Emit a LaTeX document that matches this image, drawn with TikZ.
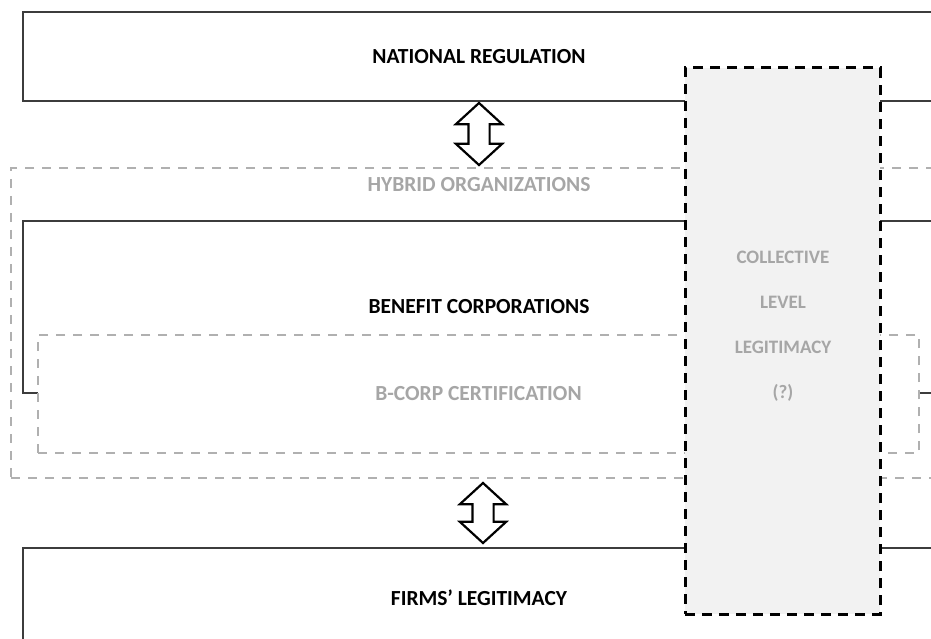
\documentclass[tikz,border=0pt]{standalone}
\usepackage{fontspec}
\setmainfont{Carlito}
\usetikzlibrary{shapes.arrows}
\definecolor{frame}{RGB}{60, 60, 60}
\definecolor{faded}{RGB}{176, 176, 176}
\definecolor{fadedtext}{RGB}{166, 166, 166}
\definecolor{shade}{RGB}{242, 242, 242}
\tikzset{
    caps/.style={font=\bfseries\fontsize{21.5}{26}\selectfont},
    level/.style={caps, draw=frame, line width=2.4pt},
    group/.style={caps, draw=faded, line width=2.2pt,
        dash pattern=on 9pt off 8pt, text=fadedtext},
    overlay-box/.style={draw=black, line width=3pt,
        dash pattern=on 10pt off 7pt, fill=shade},
    updown/.style={draw, double arrow, shape border rotate=90, fill=white,
        line width=2.2pt, inner sep=9.5pt, double arrow head extend=12.5pt,
        double arrow tip angle=95}
}

\begin{document}
\begin{tikzpicture}[x=1pt, y=-1pt]
    \useasboundingbox (0, 0) rectangle (931, 639);
    \clip (0, 0) rectangle (931, 639);

    \node[level, minimum width=912, minimum height=89] (regulation) at (479, 56.5)
        {NATIONAL REGULATION};
    \node[group, minimum width=936, minimum height=310] (hybrid) at (479, 323) {};
    \node[caps, text=fadedtext] (hybrid-title)
        at ([yshift=-18pt]hybrid.north) {HYBRID ORGANIZATIONS};
    \node[level, minimum width=912, minimum height=172] (benefit) at (479, 307)
        {BENEFIT CORPORATIONS};
    \node[group, fill=white, minimum width=881, minimum height=118] (bcorp)
        at (478.5, 394) {B-CORP CERTIFICATION};
    \node[level, minimum width=912, minimum height=100] (firms) at (479, 598)
        {FIRMS’ LEGITIMACY};

    \node[updown, minimum height=62] (upper-link) at (479, 134) {};
    \node[updown, minimum height=60] (lower-link) at (483, 513) {};

    \node[overlay-box, minimum width=195, minimum height=546] (collective)
        at (782.5, 341) {};
    \node[text=fadedtext, align=center,
        font=\bfseries\fontsize{19}{45}\selectfont] (collective-text)
        at (783, 326) {COLLECTIVE\\LEVEL\\LEGITIMACY\\(?)};
\end{tikzpicture}
\end{document}
